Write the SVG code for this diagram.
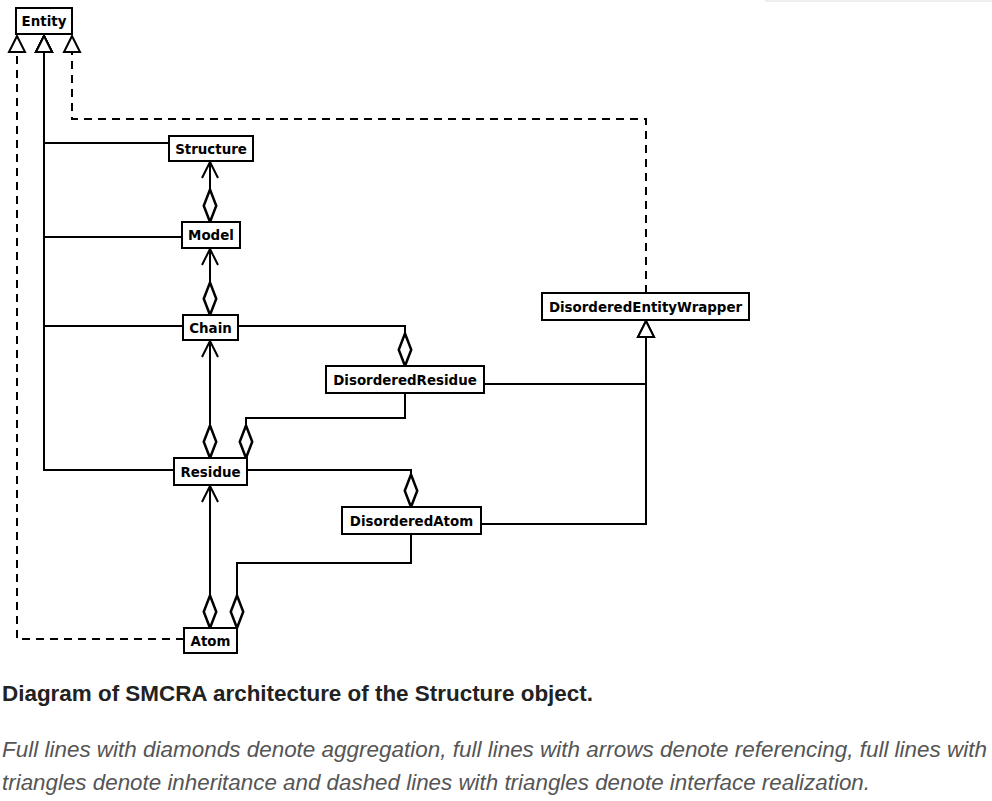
<svg xmlns="http://www.w3.org/2000/svg" width="992" height="801" viewBox="0 0 992 801">
<style>
.box{fill:#fff;stroke:#000;stroke-width:2}
.lbl{font-family:"DejaVu Sans",sans-serif;font-weight:bold;font-size:13.4px;text-anchor:middle;fill:#000}
.c{fill:none;stroke:#000;stroke-width:2}
.d{stroke-dasharray:8,6}
.mk{stroke:#000;stroke-width:2;stroke-dasharray:none}
.agg{marker-start:url(#dia)}
.ref{marker-end:url(#arr)}
.inh{marker-end:url(#tri)}
</style>
<defs>
<marker id="dia" markerUnits="userSpaceOnUse" markerWidth="40" markerHeight="20" viewBox="-2 -8 32 16" refX="0" refY="0" orient="auto" overflow="visible">
<path class="mk" d="M0,0 L13,-5 L26,0 L13,5 Z" fill="#fff"/>
</marker>
<marker id="arr" markerUnits="userSpaceOnUse" markerWidth="40" markerHeight="20" viewBox="-20 -10 24 20" refX="0" refY="0" orient="auto" overflow="visible">
<path class="mk" d="M-16,-8 L0,0 L-16,8" fill="none"/>
</marker>
<marker id="tri" markerUnits="userSpaceOnUse" markerWidth="40" markerHeight="20" viewBox="-20 -10 24 20" refX="0" refY="0" orient="auto" overflow="visible">
<path class="mk" d="M0,0 L-16,-8 L-16,8 Z" fill="#fff"/>
</marker>
</defs>
<rect width="992" height="801" fill="#fff"/>
<line x1="765" y1="1" x2="992" y2="1" stroke="#eeeeee" stroke-width="2"/>
<g id="connectors">
<path class="c d inh" d="M184,639 H17 V36"/>
<path class="c d inh" d="M646,293 V119 H72 V36"/>
<path class="c inh" d="M174,470 H44 V36"/>
<path class="c inh" d="M182,237 H44 V36"/>
<path class="c inh" d="M183,326 H44 V36"/>
<path class="c inh" d="M169,143 H44 V36"/>
<path class="c agg ref" d="M210,222 V162"/>
<path class="c agg ref" d="M210,315 V249"/>
<path class="c agg ref" d="M210,458 V341"/>
<path class="c agg ref" d="M210,628 V486"/>
<path class="c agg" d="M405,366 V326 H238"/>
<path class="c agg" d="M246,458 V418 H405 V393"/>
<path class="c agg" d="M411,507 V470 H247"/>
<path class="c agg" d="M237,628 V563 H411 V534"/>
<path class="c inh" d="M484,384 H646 V321"/>
<path class="c inh" d="M481,524 H646 V321"/>
</g>
<g id="Entity"><rect class="box" x="16" y="8" width="56" height="26"/><text class="lbl" x="44" y="26">Entity</text></g>
<g id="Structure"><rect class="box" x="169" y="136" width="84" height="25"/><text class="lbl" x="211" y="153.5">Structure</text></g>
<g id="Model"><rect class="box" x="182" y="222" width="58" height="26"/><text class="lbl" x="211" y="240">Model</text></g>
<g id="Chain"><rect class="box" x="183" y="315" width="55" height="25"/><text class="lbl" x="210.5" y="332.5">Chain</text></g>
<g id="DisorderedResidue"><rect class="box" x="326" y="366" width="158" height="27"/><text class="lbl" x="405" y="384.5">DisorderedResidue</text></g>
<g id="DisorderedEntityWrapper"><rect class="box" x="542" y="293" width="207" height="27"/><text class="lbl" x="645.5" y="311.5">DisorderedEntityWrapper</text></g>
<g id="Residue"><rect class="box" x="174" y="458" width="73" height="27"/><text class="lbl" x="210.5" y="476.5">Residue</text></g>
<g id="DisorderedAtom"><rect class="box" x="342" y="507" width="139" height="27"/><text class="lbl" x="411.5" y="525.5">DisorderedAtom</text></g>
<g id="Atom"><rect class="box" x="184" y="628" width="53" height="25"/><text class="lbl" x="210.5" y="645.5">Atom</text></g>
<g id="caption">
<text x="2" y="701" font-family="'Liberation Sans',Arial,sans-serif" font-weight="bold" font-size="22.5" fill="#222" textLength="591" lengthAdjust="spacingAndGlyphs">Diagram of SMCRA architecture of the Structure object.</text>
<text x="2" y="757" font-family="'Liberation Sans',Arial,sans-serif" font-style="italic" font-size="22" fill="#555" textLength="985" lengthAdjust="spacingAndGlyphs">Full lines with diamonds denote aggregation, full lines with arrows denote referencing, full lines with</text>
<text x="2" y="790" font-family="'Liberation Sans',Arial,sans-serif" font-style="italic" font-size="22" fill="#555" textLength="868" lengthAdjust="spacingAndGlyphs">triangles denote inheritance and dashed lines with triangles denote interface realization.</text>
</g>
</svg>
